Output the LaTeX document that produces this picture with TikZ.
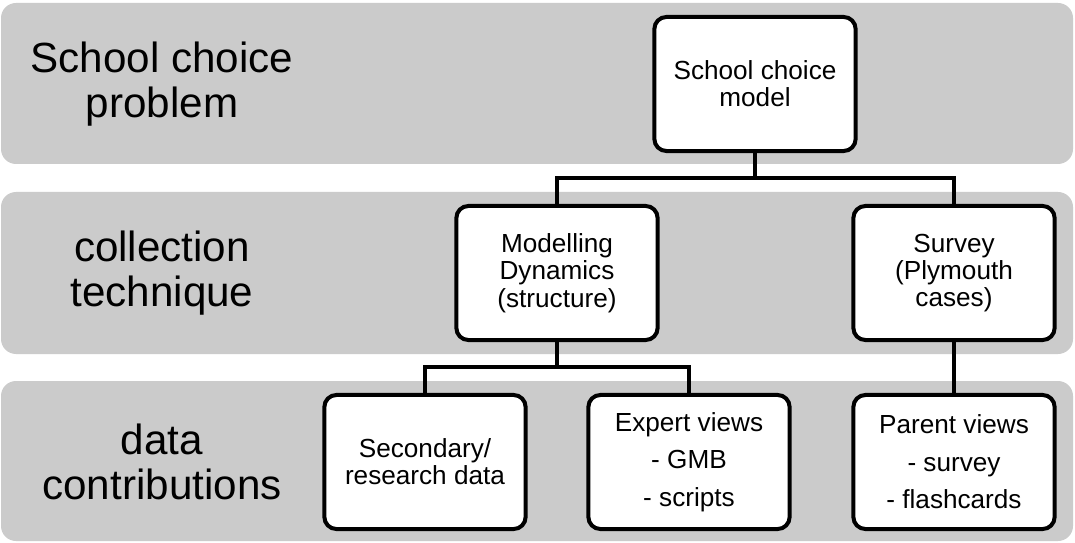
\documentclass[tikz,border=0pt]{standalone}
\usepackage{fontspec}
\setmainfont{Liberation Sans}
\usetikzlibrary{positioning}
\definecolor{bandgray}{RGB}{203,203,203}

\begin{document}
\begin{tikzpicture}[x=0.025cm, y=-0.025cm]
    \tikzstyle{band} = [fill=bandgray, rounded corners=0.375cm]
    \tikzstyle{level} = [align=center, font=\fontsize{30}{32}\selectfont]
    \tikzstyle{block} = [rectangle, draw, line width=0.1cm, fill=white, rounded corners=0.3cm, minimum width=5.03cm, minimum height=3.35cm, inner sep=2pt, align=center, font=\fontsize{18.6}{19.4}\selectfont]
    \tikzstyle{listblock} = [block, font=\fontsize{18.6}{26.6}\selectfont]
    \tikzstyle{link} = [line width=0.1cm]

    \useasboundingbox (0,0) rectangle (1075,543);

    % background bands
    \path [band] (1,3) rectangle (1073,164);
    \path [band] (1,192) rectangle (1073,354);
    \path [band] (1,381) rectangle (1073,541);

    \node [level] (problem) at (162,84) {School choice\\problem};
    \node [level] (technique) at (162,273) {collection\\technique};
    \node [level] (contrib) at (162,462) {data\\contributions};

    \node [block] (model) at (755,84) {School choice\\model};
    \node [block] (modelling) at (557,273) {Modelling\\Dynamics\\(structure)};
    \node [block] (survey) at (954,273) {Survey\\(Plymouth\\cases)};
    \node [block] (secondary) at (425,462) {Secondary/\\research data};
    \node [listblock] (expert) at (689,462) {Expert views\\- GMB\\- scripts};
    \node [listblock] (parent) at (954,462) {Parent views\\- survey\\- flashcards};

    \coordinate (split1) at (755,178);
    \coordinate (split2) at (557,367);

    \draw [link] (model) -- (split1) -| (modelling);
    \draw [link] (split1) -| (survey);
    \draw [link] (modelling) -- (split2) -| (secondary);
    \draw [link] (split2) -| (expert);
    \draw [link] (survey) -- (parent);

\end{tikzpicture}
\end{document}
